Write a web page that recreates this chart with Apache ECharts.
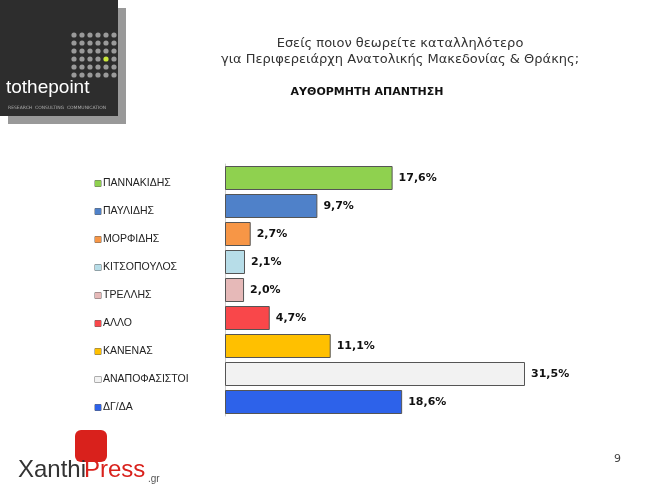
<!DOCTYPE html>
<html><head><meta charset="utf-8">
<script src="https://cdn.jsdelivr.net/npm/echarts@6/dist/echarts.min.js"></script>
<style>html,body{margin:0;padding:0;background:#fff}#c{width:660px;height:495px}</style>
</head><body><div id="c"></div>
<script>
const chart = echarts.init(document.getElementById('c'));
// data
const names = ['ΠΑΝΝΑΚΙΔΗΣ', 'ΠΑΥΛΙΔΗΣ', 'ΜΟΡΦΙΔΗΣ', 'ΚΙΤΣΟΠΟΥΛΟΣ', 'ΤΡΕΛΛΗΣ', 'ΑΛΛΟ', 'ΚΑΝΕΝΑΣ', 'ΑΝΑΠΟΦΑΣΙΣΤΟΙ', 'ΔΓ/ΔΑ'];
const values = [17.6, 9.7, 2.7, 2.1, 2.0, 4.7, 11.1, 31.5, 18.6];
const colors = ['#8fd14f', '#4f81c9', '#f79646', '#b7dde8', '#e6b9b8', '#f9474a', '#ffc000', '#f2f2f2', '#2d62ea'];

const rich = {};
colors.forEach((c, i) => { rich['s' + i] = { width: 6, height: 6, backgroundColor: c, borderColor: '#666', borderWidth: 0.5 }; });
rich.t = { fontSize: 10.5, color: '#222', fontFamily: 'Liberation Sans Narrow, Liberation Sans', padding: [0, 0, 0, 2] };

// logo dots
const dots = [];
for (let r = 0; r < 6; r++) for (let c = 0; c < 6; c++) {
    dots.push({ type: 'circle', shape: { cx: 74 + c * 8, cy: 35 + r * 8, r: 2.6 },
        style: { fill: (r === 3 && c === 4) ? '#c8e63c' : '#9a9a9a' } });
}

chart.setOption({
    animation: false,
    title: [{
        text: 'Εσείς ποιον θεωρείτε καταλληλότερο\nγια Περιφερειάρχη Ανατολικής Μακεδονίας & Θράκης;',
        left: 395, top: 31, textAlign: 'center',
        textStyle: { fontSize: 13, fontWeight: 'normal', color: '#333', lineHeight: 16, fontFamily: 'DejaVu Sans' }
    }, {
        text: 'ΑΥΘΟΡΜΗΤΗ ΑΠΑΝΤΗΣΗ', left: 362, top: 82, textAlign: 'center',
        textStyle: { fontSize: 11, fontWeight: 'bold', color: '#111', fontFamily: 'DejaVu Sans' }
    }],
    grid: { left: 225, right: 135, top: 164, height: 252 },
    xAxis: { type: 'value', min: 0, max: 31.5, show: false },
    yAxis: {
        type: 'category', inverse: true, data: names,
        axisLine: { show: true, lineStyle: { color: '#ccc' } }, axisTick: { show: false },
        axisLabel: {
            align: 'left', margin: 130, verticalAlign: 'top',
            formatter: (v, i) => '{s' + i + '|}{t|' + v + '}', rich: rich
        }
    },
    series: [{
        type: 'bar', barWidth: 24,
        data: values.map((v, i) => ({ value: v, itemStyle: { color: colors[i] } })),
        itemStyle: { borderColor: '#555', borderWidth: 1 },
        label: {
            show: true, position: 'right', distance: 6,
            formatter: p => String(p.value.toFixed(1)).replace('.', ',') + '%',
            fontSize: 11, fontWeight: 'bold', color: '#111', fontFamily: 'DejaVu Sans'
        }
    }],
    graphic: [
        { type: 'rect', shape: { x: 8, y: 8, width: 118, height: 116 }, style: { fill: '#999' } },
        { type: 'rect', shape: { x: 0, y: 0, width: 118, height: 116 }, style: { fill: '#2d2d2d' } },
        ...dots,
        { type: 'text', left: 6, top: 78, style: { text: 'tothepoint', fill: '#fff', fontSize: 19, fontFamily: 'Liberation Sans' } },
        { type: 'text', left: 8, top: 105, style: { text: 'RESEARCH  CONSULTING  COMMUNICATION', fill: '#aaa', fontSize: 4.5, fontFamily: 'DejaVu Sans' } },
        { type: 'rect', shape: { x: 75, y: 430, width: 32, height: 32, r: 6 }, style: { fill: '#d9211c' } },
        { type: 'text', left: 18, top: 458, style: { text: 'Xanthi', fill: '#333', fontSize: 24, fontFamily: 'Liberation Sans' } },
        { type: 'text', left: 84, top: 458, style: { text: 'Press', fill: '#d9211c', fontSize: 24, fontFamily: 'Liberation Sans' } },
        { type: 'text', left: 148, top: 474, style: { text: '.gr', fill: '#555', fontSize: 10, fontFamily: 'Liberation Sans' } },
        { type: 'text', left: 614, top: 454, style: { text: '9', fill: '#444', fontSize: 11, fontFamily: 'DejaVu Sans' } }
    ]
});
</script></body></html>
